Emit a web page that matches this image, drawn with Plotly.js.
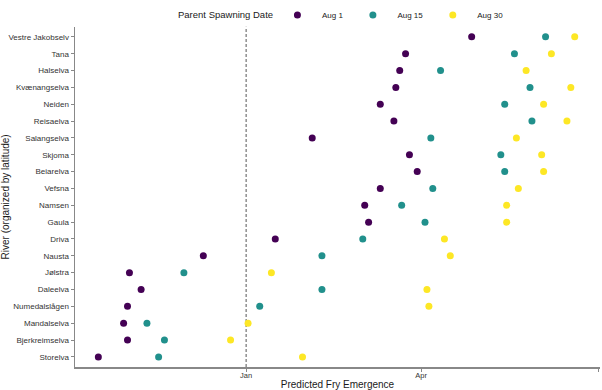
<!DOCTYPE html>
<html>
<head>
<meta charset="utf-8">
<script src="https://cdn.plot.ly/plotly-3.0.1.min.js"></script>
<style>html,body{margin:0;padding:0;background:#fff;}#chart{width:602px;height:390px;}</style>
</head>
<body>
<div id="chart"></div>
<script>
// Rivers, ordered north (top) to south (bottom)
const rivers = ["Vestre Jakobselv","Tana","Halselva","Kvænangselva","Neiden","Reisaelva","Salangselva","Skjoma","Beiarelva","Vefsna","Namsen","Gaula","Driva","Nausta","Jølstra","Daleelva","Numedalslågen","Mandalselva","Bjerkreimselva","Storelva"];

const legendTitle = "Parent Spawning Date";
const seriesNames = ["Aug 1","Aug 15","Aug 30"];
const seriesColors = ["#440154","#21908C","#FDE725"];

// Predicted fry emergence dates per river, for each parent spawning date
const emergeAug1 = ["2019-04-27","2019-03-24","2019-03-21","2019-03-19","2019-03-11","2019-03-18","2019-02-04","2019-03-26","2019-03-30","2019-03-11","2019-03-03","2019-03-05","2019-01-16","2018-12-10","2018-11-02","2018-11-08","2018-11-01","2018-10-30","2018-11-01","2018-10-17"];
const emergeAug15 = ["2019-06-04","2019-05-19","2019-04-11","2019-05-27","2019-05-14","2019-05-28","2019-04-06","2019-05-12","2019-05-14","2019-04-07","2019-03-22","2019-04-03","2019-03-02","2019-02-09","2018-11-30","2019-02-09","2019-01-08","2018-11-11","2018-11-20","2018-11-17"];
const emergeAug30 = ["2019-06-19","2019-06-07","2019-05-25","2019-06-17","2019-06-03","2019-06-15","2019-05-20","2019-06-02","2019-06-03","2019-05-21","2019-05-15","2019-05-15","2019-04-13","2019-04-16","2019-01-14","2019-04-04","2019-04-05","2019-01-02","2018-12-24","2019-01-30"];

const xTickVals = ["2019-01-01","2019-04-01","2019-07-01"];
const xTickText = ["Jan","Apr","Jul"];
const xRange = ["2018-10-05","2019-07-02"];
const refLineDate = "2019-01-01";

const allSeries = [emergeAug1, emergeAug15, emergeAug30];
const traces = allSeries.map((vals, i) => ({
  type: "scatter",
  mode: "markers",
  name: seriesNames[i],
  x: vals,
  y: rivers,
  marker: {color: seriesColors[i], size: 7, line: {width: 0}},
  cliponaxis: false
}));

const font = "Liberation Sans, Arial, sans-serif";

const layout = {
  width: 602, height: 390,
  margin: {l: 75, r: 2, t: 0, b: 23},
  paper_bgcolor: "#fff", plot_bgcolor: "#fff",
  font: {family: font, color: "#1a1a1a"},
  showlegend: true,
  legend: {
    orientation: "h",
    x: 0.377, xanchor: "left",
    y: 0.970, yanchor: "middle",
    font: {size: 8, family: font, color: "#1a1a1a"},
    itemwidth: 39,
    itemsizing: "trace",
    tracegroupgap: 0,
    bgcolor: "rgba(0,0,0,0)"
  },
  annotations: [{
    text: legendTitle, xref: "paper", yref: "paper",
    x: 0.1924, y: 0.970, xanchor: "left", yanchor: "middle",
    showarrow: false, font: {size: 9.5, family: font, color: "#1a1a1a"}
  }],
  xaxis: {
    type: "date",
    range: xRange,
    automargin: false,
    tickmode: "array",
    tickvals: xTickVals,
    ticktext: xTickText,
    tickfont: {size: 7.5, family: font, color: "#333"},
    ticks: "",
    minor: {ticks: "outside", ticklen: 3, tickcolor: "#888", tickwidth: 1, tickmode: "array", tickvals: xTickVals, showgrid: false},
    showgrid: false, zeroline: false,
    showline: true, linecolor: "#888", linewidth: 1.5,
    title: {text: "Predicted Fry Emergence", font: {size: 10, family: font, color: "#1a1a1a"}, standoff: 3}
  },
  yaxis: {
    type: "category",
    automargin: false,
    domain: [0, 0.9373],
    categoryorder: "array",
    categoryarray: rivers.slice().reverse(),
    range: [-0.6, rivers.length - 0.4],
    tickfont: {size: 8, family: font, color: "#333"},
    ticks: "outside", ticklen: 3, tickcolor: "#888", tickwidth: 1,
    showgrid: false, zeroline: false,
    showline: true, linecolor: "#888", linewidth: 1.5,
    title: {text: "River (organized by latitude)", font: {size: 10, family: font, color: "#1a1a1a"}, standoff: 2}
  },
  shapes: [{
    type: "line", xref: "x", yref: "y domain",
    x0: refLineDate, x1: refLineDate, y0: 0, y1: 1,
    line: {color: "#555", width: 1, dash: "3px,2px"},
    layer: "below"
  }]
};

Plotly.newPlot("chart", traces, layout, {displayModeBar: false, staticPlot: true});
</script>
</body>
</html>
